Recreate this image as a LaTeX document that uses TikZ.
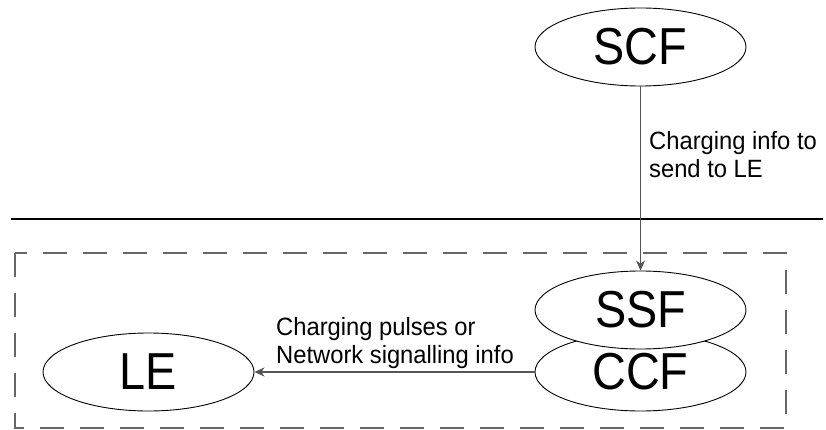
\documentclass[tikz,border=0pt]{standalone}
\usepackage{fontspec}
\setmainfont{Liberation Sans}
\newfontfamily\bigfam[FakeStretch=0.9]{Liberation Sans}
\newfontfamily\smallfam[FakeStretch=0.95]{Liberation Sans}
\usetikzlibrary{shapes.geometric,arrows.meta}
\definecolor{linegray}{HTML}{555555}
\definecolor{dashgray}{HTML}{666666}
\tikzset{
  ent/.style={ellipse, draw=black, line width=0.9pt, fill=white, minimum width=211pt, minimum height=78pt, inner sep=0pt, font=\bigfam\fontsize{52}{52}\selectfont},
  lbl/.style={align=left, inner sep=0pt, font=\smallfam\fontsize{25}{28}\selectfont},
  conn/.style={draw=linegray, line width=1.1pt, -{Stealth[length=10pt,width=9pt,inset=3pt]}},
  zone/.style={draw=dashgray, line width=1.6pt, dash pattern=on 24pt off 16pt},
}
\begin{document}
\begin{tikzpicture}[x=1pt,y=-1pt]
\useasboundingbox (0,0) rectangle (826,430);
\draw[zone] (15,253) rectangle (786,428);
\coordinate (hl) at (11,219);
\coordinate (hr) at (823,219);
\draw[line width=1.8pt] (hl) -- (hr);
\node[ent] (scf) at (640.5,47) {SCF};
\node[ent] (ccf) at (640.5,372) {CCF};
\node[ent] (ssf) at (640.5,310) {SSF};
\node[ent] (le) at (148.5,372) {LE};
\draw[conn] (scf) -- (ssf);
\draw[conn] (ccf) -- (le);
\node[lbl, anchor=west] (l1) at (649,155) {Charging info to\\send to LE};
\node[lbl, anchor=west] (l2) at (276,343) {Charging pulses or\\Network signalling info};
\end{tikzpicture}
\end{document}
